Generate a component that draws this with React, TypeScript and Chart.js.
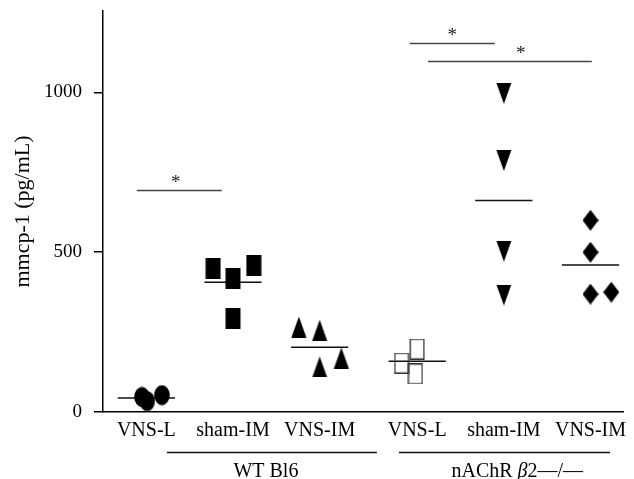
import React, { useEffect, useRef } from "react";
import { Chart, registerables } from "chart.js";

Chart.register(...registerables);

// ---- data ----
const categories = ["VNS-L", "sham-IM", "VNS-IM", "VNS-L", "sham-IM", "VNS-IM"];
const categoryPositions = [0, 1, 2, 3.125, 4.125, 5.125];
const groupLabels = ["WT Bl6", "nAChR β2—/—"];

const wtVnsL = [47, 34, 53];
const wtVnsLJitter = [-0.05, 0.01, 0.18];
const wtSham = [450, 419, 459, 294];
const wtShamJitter = [-0.23, 0, 0.24, 0];
const wtVnsIM = [266, 256, 141, 169];
const wtVnsIMJitter = [-0.24, 0, 0, 0.25];
const koVnsL = [153, 197, 119];
const koVnsLJitter = [-0.18, 0, -0.02];
const koSham = [997, 787, 503, 366];
const koShamJitter = [0, 0, 0, 0];
const koVnsIM = [600, 500, 369, 375];
const koVnsIMJitter = [0, 0, 0, 0.24];

const groupMeans = [44, 406, 203, 159, 662, 460];

const yTicks = [0, 500, 1000];

// significance brackets: [from, to, value, star position]
const bracketFrom = [-0.11, 3.04, 3.25];
const bracketTo = [0.87, 4.02, 5.14];
const bracketValue = [694, 1156, 1097];
const bracketStar = [0.34, 3.53, 4.32];

// group underline extents (x units) and label centers
const groupFrom = [0.237, 2.915];
const groupTo = [2.66, 5.35];
const groupCenter = [1.38, 4.28];

const FONT = '"Liberation Serif", "DejaVu Serif", serif';

function makeMarker(kind: string): HTMLCanvasElement {
  const w = 16;
  const h = 21;
  const c = document.createElement("canvas");
  c.width = w;
  c.height = h;
  const g = c.getContext("2d")!;
  g.fillStyle = "#000";
  g.strokeStyle = "#333";
  g.beginPath();
  if (kind === "circle") {
    g.ellipse(w / 2, h / 2, 7.8, 10, 0, 0, Math.PI * 2);
    g.fill();
  } else if (kind === "square") {
    g.rect(0.5, 0, 15, 21);
    g.fill();
  } else if (kind === "up") {
    g.moveTo(w / 2, 0);
    g.lineTo(w - 0.5, h);
    g.lineTo(0.5, h);
    g.closePath();
    g.fill();
  } else if (kind === "down") {
    g.moveTo(0.5, 0);
    g.lineTo(w - 0.5, 0);
    g.lineTo(w / 2, h);
    g.closePath();
    g.fill();
  } else if (kind === "open") {
    g.lineWidth = 1.3;
    g.rect(1.2, 0.7, 13.6, 19.6);
    g.stroke();
  } else if (kind === "diamond") {
    g.moveTo(w / 2, 0);
    g.lineTo(w, h / 2);
    g.lineTo(w / 2, h);
    g.lineTo(0, h / 2);
    g.closePath();
    g.fill();
  }
  return c;
}

function pts(cat: number, vals: number[], jit: number[]) {
  return vals.map((v, i) => ({ x: categoryPositions[cat] + jit[i], y: v }));
}

const annotPlugin = {
  id: "annot",
  afterDraw(chart: any) {
    const { ctx, scales } = chart;
    const x = scales.x;
    const y = scales.y;
    ctx.save();
    // brackets
    ctx.font = `19px ${FONT}`;
    ctx.fillStyle = "#222";
    ctx.textAlign = "center";
    ctx.textBaseline = "middle";
    for (let i = 0; i < bracketFrom.length; i++) {
      const py = Math.round(y.getPixelForValue(bracketValue[i])) + 0.5;
      ctx.strokeStyle = "#444";
      ctx.lineWidth = 1.5;
      ctx.beginPath();
      ctx.moveTo(x.getPixelForValue(bracketFrom[i]), py);
      ctx.lineTo(x.getPixelForValue(bracketTo[i]), py);
      ctx.stroke();
      ctx.fillText("*", x.getPixelForValue(bracketStar[i]), py - 7);
    }
    // group underlines
    const gy = y.bottom + 40.5;
    ctx.strokeStyle = "#111";
    ctx.lineWidth = 1.5;
    for (let i = 0; i < groupFrom.length; i++) {
      ctx.beginPath();
      ctx.moveTo(x.getPixelForValue(groupFrom[i]), gy);
      ctx.lineTo(x.getPixelForValue(groupTo[i]), gy);
      ctx.stroke();
    }
    // group labels
    ctx.fillStyle = "#000";
    ctx.textBaseline = "middle";
    const ly = y.bottom + 60;
    ctx.textAlign = "center";
    ctx.font = `20px ${FONT}`;
    ctx.fillText(groupLabels[0], x.getPixelForValue(groupCenter[0]), ly);
    // second label with italic beta
    const lab = groupLabels[1];
    const bi = lab.indexOf("β");
    const p1 = lab.slice(0, bi);
    const p2 = "β";
    const p3 = lab.slice(bi + 1);
    const fN = `20px ${FONT}`;
    const fI = `italic 20px ${FONT}`;
    ctx.font = fN;
    const w1 = ctx.measureText(p1).width;
    const w3 = ctx.measureText(p3).width;
    ctx.font = fI;
    const w2 = ctx.measureText(p2).width;
    const total = w1 + w2 + w3;
    let cx = x.getPixelForValue(groupCenter[1]) - total / 2;
    ctx.textAlign = "left";
    ctx.font = fN;
    ctx.fillText(p1, cx, ly);
    cx += w1;
    ctx.font = fI;
    ctx.fillText(p2, cx, ly);
    cx += w2;
    ctx.font = fN;
    ctx.fillText(p3, cx, ly);
    ctx.restore();
  },
};

export default function App() {
  const ref = useRef<HTMLCanvasElement | null>(null);
  useEffect(() => {
    document.body.style.margin = "0";
    if (!ref.current) return;
    const meanData: any[] = [];
    groupMeans.forEach((m, i) => {
      meanData.push({ x: categoryPositions[i] - 0.33, y: m });
      meanData.push({ x: categoryPositions[i] + 0.33, y: m });
      meanData.push({ x: categoryPositions[i] + 0.4, y: null });
    });
    const sc = (data: any[], kind: string) => ({
      type: "scatter" as const,
      data,
      pointStyle: makeMarker(kind),
      pointRadius: 10,
      showLine: false,
    });
    const chart = new Chart(ref.current, {
      type: "scatter",
      data: {
        datasets: [
          sc(pts(0, wtVnsL, wtVnsLJitter), "circle"),
          sc(pts(1, wtSham, wtShamJitter), "square"),
          sc(pts(2, wtVnsIM, wtVnsIMJitter), "up"),
          sc(pts(3, koVnsL, koVnsLJitter), "open"),
          sc(pts(4, koSham, koShamJitter), "down"),
          sc(pts(5, koVnsIM, koVnsIMJitter), "diamond"),
          {
            type: "line" as const,
            data: meanData,
            borderColor: "#111",
            borderWidth: 1.5,
            pointRadius: 0,
            spanGaps: false,
            fill: false,
          } as any,
        ],
      },
      options: {
        animation: false,
        responsive: true,
        maintainAspectRatio: false,
        layout: { padding: { top: 10, right: 11, bottom: 0, left: 0 } },
        plugins: { legend: { display: false }, tooltip: { enabled: false } },
        scales: {
          x: {
            type: "linear",
            min: -0.5,
            max: 5.5,
            grid: { display: false, drawTicks: false },
            border: { display: true, color: "#000", width: 1.5 },
            afterBuildTicks: (s: any) => {
              s.ticks = categoryPositions.map((v) => ({ value: v }));
            },
            afterFit: (s: any) => {
              s.height = 67;
              s.paddingLeft = 0;
              s.paddingRight = 0;
            },
            ticks: {
              autoSkip: false,
              maxRotation: 0,
              padding: 7,
              color: "#000",
              font: { family: FONT, size: 20 },
              callback: (_v: any, i: number) => categories[i],
            },
          },
          y: {
            type: "linear",
            min: 0,
            max: 1255,
            grid: {
              display: true,
              drawOnChartArea: false,
              drawTicks: true,
              tickLength: 9,
              color: "#000",
              lineWidth: 1.5,
            },
            border: { display: true, color: "#000", width: 1.5 },
            afterBuildTicks: (s: any) => {
              s.ticks = yTicks.map((v) => ({ value: v }));
            },
            afterFit: (s: any) => {
              s.width = 103;
              s.paddingTop = 0;
              s.paddingBottom = 0;
            },
            ticks: {
              padding: 12,
              color: "#000",
              font: { family: FONT, size: 19 },
              callback: (v: any) => String(v),
            },
            title: {
              display: true,
              text: "mmcp-1 (pg/mL)",
              color: "#000",
              font: { family: FONT, size: 22 },
              padding: { top: 10, bottom: 0 },
            },
          },
        },
      },
      plugins: [annotPlugin],
    });
    return () => chart.destroy();
  }, []);
  return (
    <div style={{ position: "absolute", left: 0, top: 0, width: 634, height: 479 }}>
      <canvas ref={ref} />
    </div>
  );
}
